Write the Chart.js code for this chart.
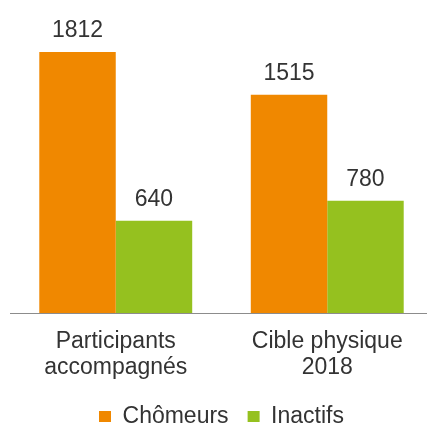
<!DOCTYPE html>
<html>
<head>
<meta charset="utf-8">
<script src="https://cdn.jsdelivr.net/npm/chart.js@4"></script>
<style>
  html, body { margin: 0; padding: 0; background: #fff; overflow: hidden; }
  #wrap { width: 433px; height: 425px; }
</style>
</head>
<body>
<div id="wrap"><canvas id="graphique" width="433" height="425"></canvas></div>
<script>
// Données
const categories = [['Participants', 'accompagnés'], ['Cible physique', '2018']];
const chomeurs = [1812, 1515];
const inactifs = [640, 780];
const seriesNames = ['Chômeurs', 'Inactifs'];
const colors = ['#F08800', '#95C11F'];

const police = '"Liberation Sans", Arial, sans-serif';

// Étiquettes de valeur au-dessus des barres
const valeurs = {
    id: 'valeurs',
    afterDatasetsDraw(chart) {
        const ctx = chart.ctx;
        ctx.save();
        ctx.font = '23px ' + police;
        ctx.fillStyle = '#333333';
        ctx.textAlign = 'center';
        ctx.textBaseline = 'alphabetic';
        chart.data.datasets.forEach((ds, i) => {
            chart.getDatasetMeta(i).data.forEach((bar, j) => {
                ctx.fillText(ds.data[j], bar.x, bar.y - 15);
            });
        });
        ctx.restore();
    }
};

document.addEventListener('DOMContentLoaded', function() {
    const ctx = document.getElementById('graphique').getContext('2d');
    new Chart(ctx, {
        type: 'bar',
        data: {
            labels: categories,
            datasets: [
                { label: seriesNames[0], data: chomeurs, backgroundColor: colors[0] },
                { label: seriesNames[1], data: inactifs, backgroundColor: colors[1] }
            ]
        },
        options: {
            responsive: false,
            animation: false,
            layout: { padding: { top: 25, left: 10, right: 0, bottom: -13 } },
            datasets: {
                bar: { barPercentage: 1, categoryPercentage: 0.723 }
            },
            scales: {
                x: {
                    grid: { display: false, drawTicks: false },
                    border: { display: true, color: '#8c8c8c', width: 1 },
                    ticks: {
                        color: '#333333',
                        padding: 16,
                        font: { family: police, size: 23, lineHeight: 26 / 23 }
                    },
                    afterFit(scale) { scale.height = 73; }
                },
                y: {
                    display: false,
                    min: 0,
                    max: 2000
                }
            },
            plugins: {
                legend: {
                    position: 'bottom',
                    labels: {
                        boxWidth: 12,
                        boxHeight: 11,
                        padding: 19,
                        color: '#333333',
                        font: { family: police, size: 23 }
                    }
                },
                tooltip: { enabled: false }
            }
        },
        plugins: [valeurs]
    });
});
</script>
</body>
</html>
